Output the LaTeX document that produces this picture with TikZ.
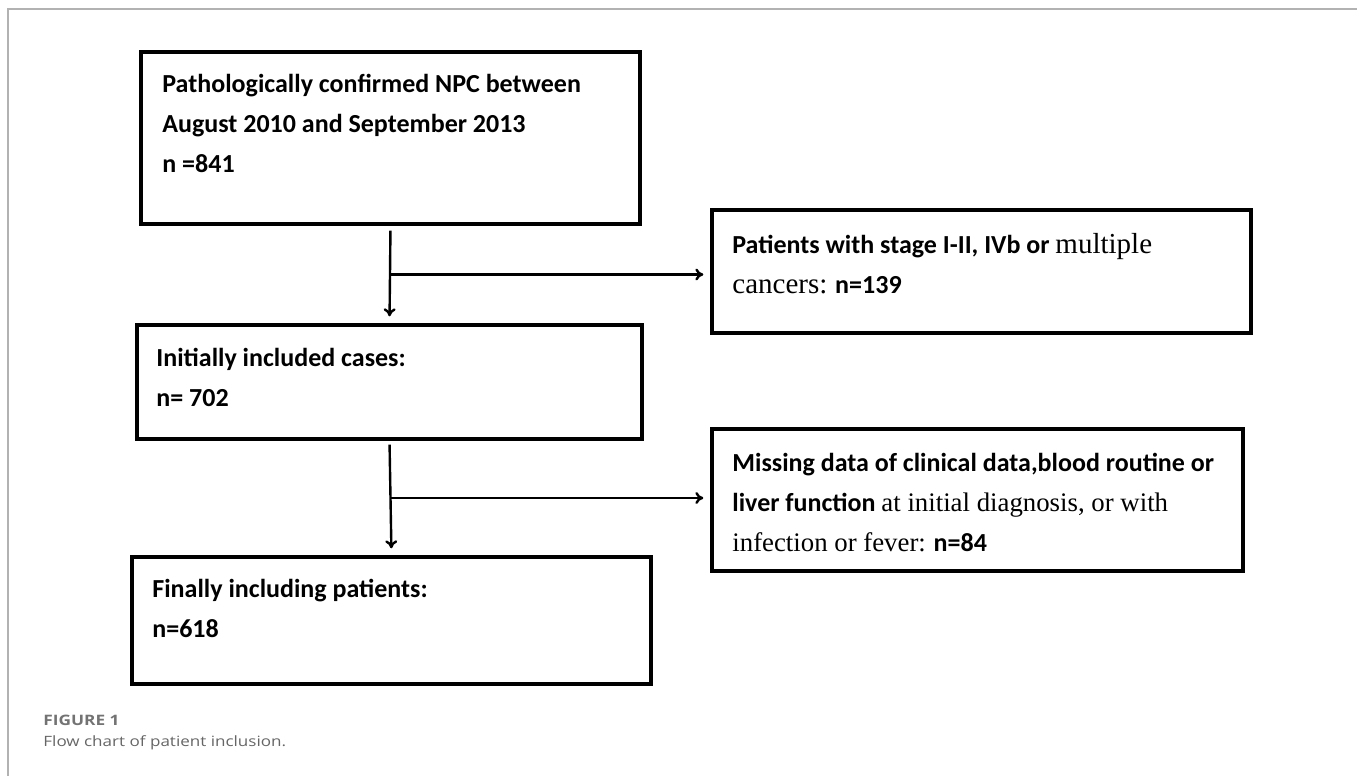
\documentclass[tikz,border=0pt]{standalone}
\usepackage{fontspec}
\setmainfont{Carlito}
\newfontfamily\romfont{Liberation Serif}
\newfontfamily\capfont[FakeStretch=1.2]{Open Sans}
\usetikzlibrary{arrows.meta, calc}

\begin{document}
\begin{tikzpicture}[x=0.5pt, y=-0.5pt]
\tikzset{boite/.style={draw, line width=1.7pt, inner sep=0pt},
  texte/.style={anchor=north west, inner sep=0pt, align=left, font=\fontsize{13}{20}\selectfont\bfseries},
  fleche/.style={line width=1.2pt, -{To[length=4pt, width=6pt]}},
  cadre/.style={draw=black!30, line width=1pt}}
\useasboundingbox (0, 0) rectangle (1357, 776);
\draw[cadre] (8, 776) -- (8, 9) -- (1357, 9);
\node[boite, minimum width=499*0.5pt, minimum height=172*0.5pt] (B1) at (390.5, 138) {};
\node[boite, minimum width=539*0.5pt, minimum height=123*0.5pt] (B2) at (981.5, 271.5) {};
\node[boite, minimum width=505*0.5pt, minimum height=114*0.5pt] (B3) at (389.5, 382) {};
\node[boite, minimum width=531*0.5pt, minimum height=142*0.5pt] (B4) at (977.5, 500) {};
\node[boite, minimum width=519*0.5pt, minimum height=127*0.5pt] (B5) at (391.5, 620.5) {};
\node[texte] (T1) at (162, 74) {Pathologically confirmed NPC between\\August 2010 and September 2013\\n =841};
\node[texte] (T2) at (732, 233) {Patients with stage I-II, IVb or {\romfont\mdseries\fontsize{14.5}{20}\selectfont multiple}\\{\romfont\mdseries\fontsize{14.5}{20}\selectfont cancers:} n=139};
\node[texte] (T3) at (156, 348) {Initially included cases:\\n= 702};
\node[texte] (T4) at (732, 453) {Missing data of clinical data,blood routine or\\liver function {\romfont\mdseries\fontsize{13.4}{20}\selectfont at initial diagnosis, or with}\\{\romfont\mdseries\fontsize{13.4}{20}\selectfont infection or fever:} n=84};
\node[texte] (T5) at (152, 579) {Finally including patients:\\n=618};
\node[anchor=base west, inner sep=0pt, text=black!55, font=\capfont\fontsize{7.2}{8}\selectfont\bfseries] (F1) at (43, 725) {FIGURE 1};
\node[anchor=base west, inner sep=0pt, text=black!60, font=\capfont\fontsize{7.1}{9}\selectfont] (F2) at (43, 746) {Flow chart of patient inclusion.};
\coordinate (J1) at ($(B1.south)!0.5!(B3.north)$);
\coordinate (J2) at ($(B3.south)!0.5!(B5.north)$);
\draw[fleche, shorten <=2.5pt, shorten >=3.5pt] (B1.south) -- (B3.north);
\draw[fleche, shorten >=3.5pt] (J1) -- (J1 -| B2.west);
\draw[fleche, shorten <=2pt, shorten >=3.5pt] (B3.south) -- (B5.north);
\draw[fleche, shorten >=3.5pt] (J2) -- (J2 -| B4.west);
\end{tikzpicture}
\end{document}
